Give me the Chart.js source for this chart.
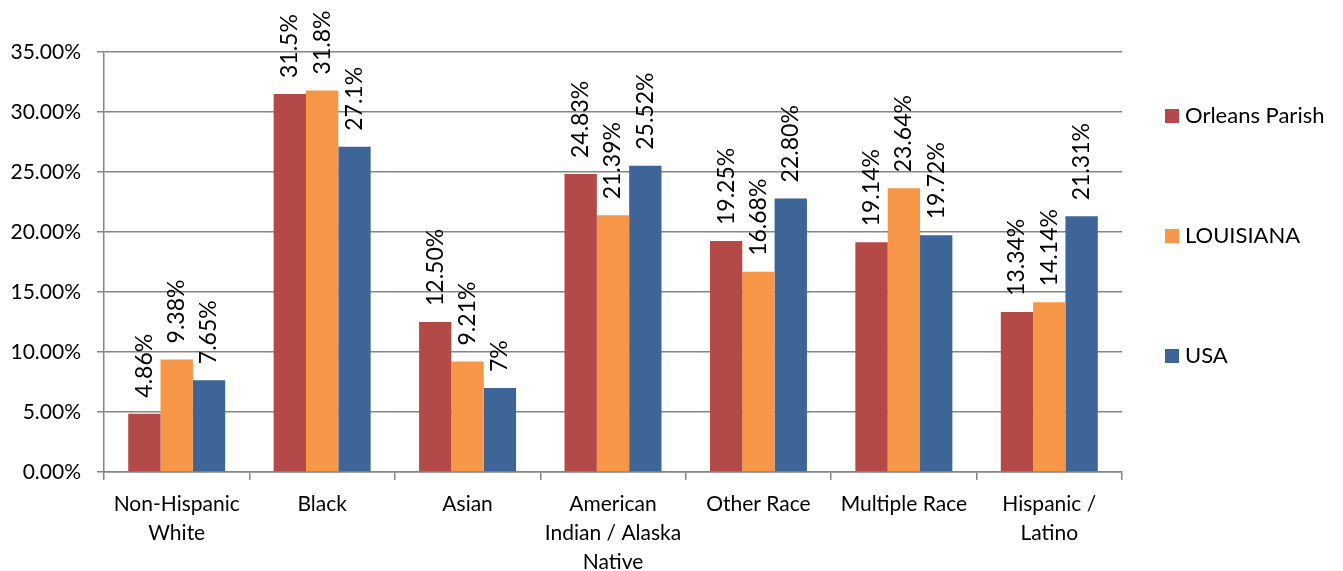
<!DOCTYPE html>
<html>
<head>
<meta charset="utf-8">
<script src="https://cdn.jsdelivr.net/npm/chart.js@4.4.0/dist/chart.umd.min.js"></script>
<style>
  html, body { margin: 0; padding: 0; background: #fff; }
  #wrap { width: 1343px; height: 571px; position: relative; }
</style>
</head>
<body>
<div id="wrap"><canvas id="raceChart" width="1343" height="571"></canvas></div>
<script>
// categories and series
const categories = [
    ["Non-Hispanic", "White"],
    "Black",
    "Asian",
    ["American", "Indian / Alaska", "Native"],
    "Other Race",
    "Multiple Race",
    ["Hispanic /", "Latino"]
];
const seriesNames = ["Orleans Parish", "LOUISIANA", "USA"];
const orleansValues = [4.86, 31.5, 12.5, 24.83, 19.25, 19.14, 13.34];
const louisianaValues = [9.38, 31.8, 9.21, 21.39, 16.68, 23.64, 14.14];
const usaValues = [7.65, 27.1, 7, 25.52, 22.80, 19.72, 21.31];
const orleansLabels = ["4.86%", "31.5%", "12.50%", "24.83%", "19.25%", "19.14%", "13.34%"];
const louisianaLabels = ["9.38%", "31.8%", "9.21%", "21.39%", "16.68%", "23.64%", "14.14%"];
const usaLabels = ["7.65%", "27.1%", "7%", "25.52%", "22.80%", "19.72%", "21.31%"];
const yTicks = [0, 5, 10, 15, 20, 25, 30, 35];

const colors = ["#B44A48", "#F79646", "#3D6597"];
const FONT = "Lato, 'Open Sans', sans-serif";

// values written above bars, rotated
const barLabels = {
    id: 'barLabels',
    afterDatasetsDraw(chart) {
        const c = chart.ctx;
        const lists = [orleansLabels, louisianaLabels, usaLabels];
        c.save();
        c.font = "23px " + FONT;
        c.fillStyle = "#000";
        c.textAlign = "left";
        c.textBaseline = "middle";
        chart.data.datasets.forEach((ds, i) => {
            chart.getDatasetMeta(i).data.forEach((bar, j) => {
                c.save();
                c.translate(bar.x, bar.y - 16);
                c.rotate(-Math.PI / 2);
                c.fillText(lists[i][j], 0, 0);
                c.restore();
            });
        });
        c.restore();
    }
};

// legend on the right, spaced like the original
const sideLegend = {
    id: 'sideLegend',
    afterDraw(chart) {
        const c = chart.ctx;
        const area = chart.chartArea;
        c.save();
        c.font = "22px " + FONT;
        c.textBaseline = "middle";
        c.textAlign = "left";
        chart.data.datasets.forEach((ds, i) => {
            const y = area.top + 64 + i * 120;
            c.fillStyle = ds.backgroundColor;
            c.fillRect(area.right + 43, y - 7, 14, 14);
            c.fillStyle = "#000";
            c.fillText(ds.label, area.right + 63, y);
        });
        c.restore();
    }
};

const ctx = document.getElementById('raceChart');
new Chart(ctx, {
    type: 'bar',
    data: {
        labels: categories,
        datasets: [
            { label: seriesNames[0], data: orleansValues, backgroundColor: colors[0] },
            { label: seriesNames[1], data: louisianaValues, backgroundColor: colors[1] },
            { label: seriesNames[2], data: usaValues, backgroundColor: colors[2] }
        ]
    },
    options: {
        responsive: false,
        animation: false,
        devicePixelRatio: 1,
        layout: { padding: { top: 52, right: 221, left: 0, bottom: 0 } },
        datasets: { bar: { categoryPercentage: 0.667, barPercentage: 1.0 } },
        plugins: {
            legend: { display: false },
            tooltip: { enabled: false }
        },
        scales: {
            x: {
                grid: { display: true, drawOnChartArea: false, offset: true, color: "#868686", lineWidth: 1.5, tickLength: 8 },
                border: { display: true, color: "#868686", width: 1.5 },
                ticks: { color: "#000", font: { family: FONT, size: 21, lineHeight: 1.38 }, padding: 10, maxRotation: 0, autoSkip: false },
                afterFit(scale) { scale.height = 99; }
            },
            y: {
                min: 0,
                max: 35,
                afterBuildTicks(scale) { scale.ticks = yTicks.map(v => ({ value: v })); },
                grid: { color: "#868686", lineWidth: 1.5, tickLength: 7 },
                border: { display: true, color: "#868686", width: 1.5 },
                ticks: {
                    color: "#000",
                    font: { family: FONT, size: 21 },
                    padding: 16,
                    callback: v => v.toFixed(2) + "%"
                },
                afterFit(scale) { scale.width = 104; }
            }
        }
    },
    plugins: [barLabels, sideLegend]
});
</script>
</body>
</html>
